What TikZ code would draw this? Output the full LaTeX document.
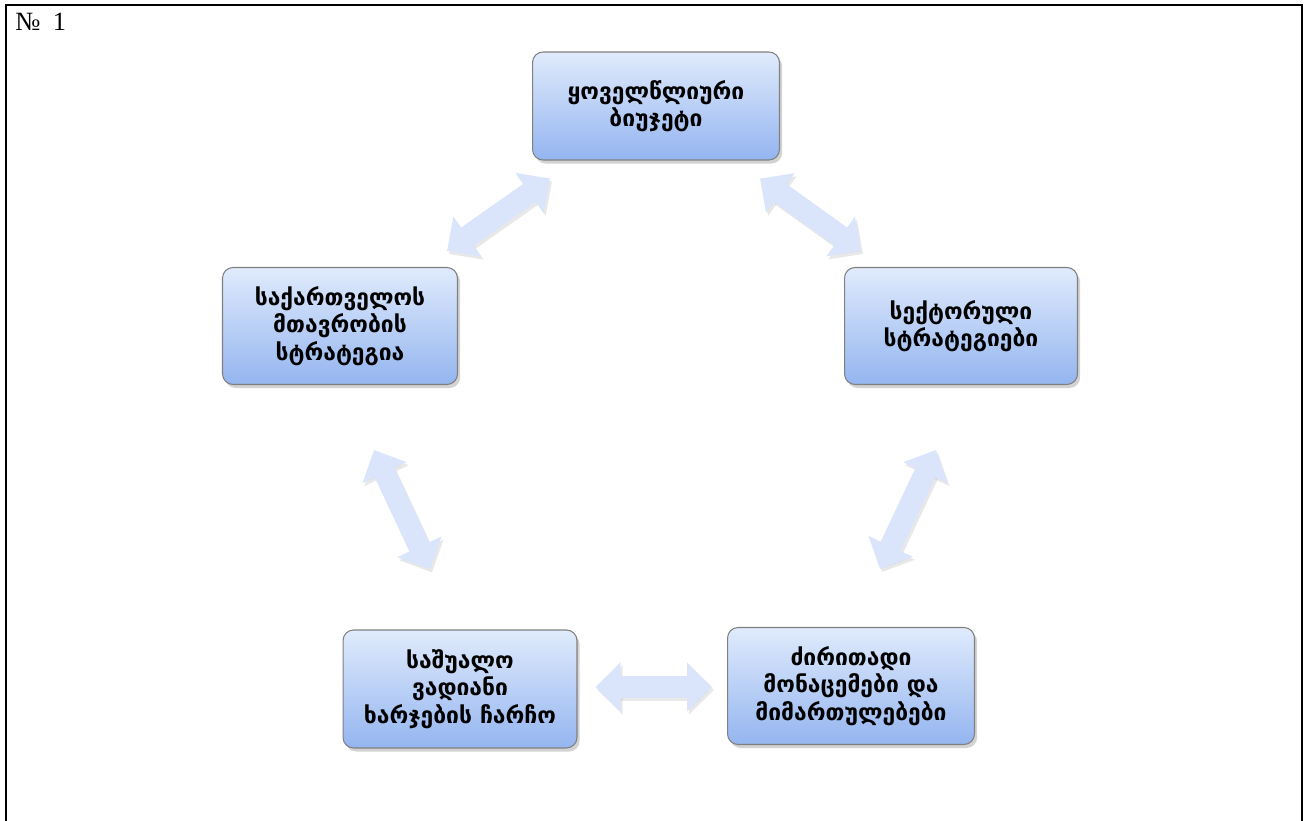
\documentclass[tikz,border=0pt]{standalone}
\usepackage{fontspec}
\setmainfont{Liberation Serif}
\newfontfamily\geofont{DejaVu Sans}
\usepackage{tikz}
\usetikzlibrary{arrows.meta, calc, shadows}
\definecolor{boxtop}{RGB}{224,235,252}
\definecolor{boxbot}{RGB}{148,181,240}
\definecolor{arrowblue}{RGB}{218,229,251}
\tikzset{
  geobox/.style={rectangle, rounded corners=6pt, draw=black!50, line width=0.6pt,
                 top color=boxtop, bottom color=boxbot, align=center,
                 font=\geofont\bfseries\fontsize{13}{15.5}\selectfont,
                 drop shadow={shadow xshift=1.5pt, shadow yshift=-2pt, opacity=0.35}},
  barrow/.style={line width=0.44cm, draw=arrowblue,
                 {Triangle[length=0.5cm, width=0.95cm]}-{Triangle[length=0.5cm, width=0.95cm]}},
  bshadow/.style={line width=0.44cm, draw=black!30, opacity=0.3,
                 {Triangle[length=0.5cm, width=0.95cm]}-{Triangle[length=0.5cm, width=0.95cm]}},
}

\begin{document}
\begin{tikzpicture}[x=0.02cm, y=-0.02cm]
    \useasboundingbox (0,0) rectangle (1308,821);
    \draw[line width=0.04cm] (6,821) -- (6,5) -- (1302,5) -- (1302,821);
    \node[anchor=west, inner sep=0pt, font=\fontsize{15}{17}\selectfont] (num) at (15,22) {№\hspace{7pt}1};

    \node[geobox, minimum width=4.94cm, minimum height=2.16cm] (budget) at (656,106) {ყოველწლიური\\ბიუჯეტი};
    \node[geobox, minimum width=4.70cm, minimum height=2.34cm] (govstrat) at (340,326) {საქართველოს\\მთავრობის\\სტრატეგია};
    \node[geobox, minimum width=4.66cm, minimum height=2.34cm] (sectstrat) at (961,326) {სექტორული\\სტრატეგიები};
    \node[geobox, minimum width=4.68cm, minimum height=2.36cm] (mtef) at (460,689) {საშუალო\\ვადიანი\\ხარჯების ჩარჩო};
    \node[geobox, minimum width=4.94cm, minimum height=2.34cm] (priorities) at (851,686) {ძირითადი\\მონაცემები და\\მიმართულებები};

    % arrow ends
    \coordinate (a1) at ($(govstrat.north east)+(-11,-16)$);
    \coordinate (b1) at ($(budget.south west)+(18,18)$);
    \coordinate (a2) at ($(budget.south east)+(-20,18)$);
    \coordinate (b2) at ($(sectstrat.north west)+(17,-16)$);
    \coordinate (a3) at ($(govstrat.south)+(34,65)$);
    \coordinate (b3) at ($(mtef.north)+(-30,-60)$);
    \coordinate (a4) at ($(sectstrat.south)+(-25,65)$);
    \coordinate (b4) at ($(priorities.north)+(29,-58)$);
    \coordinate (a5) at ($(mtef.east)+(18,-2)$);
    \coordinate (b5) at ($(priorities.west)+(-15,1)$);

    \foreach \s/\e in {a1/b1, a2/b2, a3/b3, a4/b4, a5/b5} {
      \draw[bshadow] ($(\s)+(2,3)$) -- ($(\e)+(2,3)$);
      \draw[barrow] (\s) -- (\e);
    }
\end{tikzpicture}
\end{document}
